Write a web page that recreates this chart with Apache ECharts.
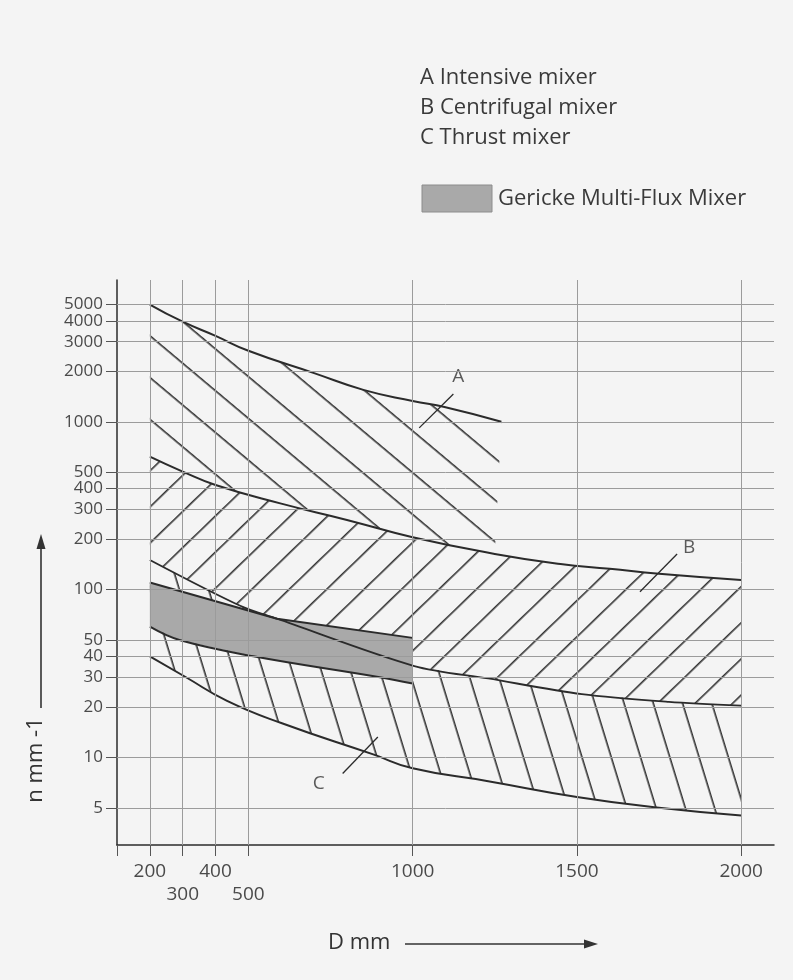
<!DOCTYPE html>
<html>
<head>
<meta charset="utf-8">
<script src="https://cdn.jsdelivr.net/npm/echarts@6/dist/echarts.min.js"></script>
<style>
  html, body { margin: 0; padding: 0; background: #f4f4f4; }
  #main { width: 793px; height: 980px; }
</style>
</head>
<body>
<div id="main"></div>
<script>
// tick values
var xTicks = [200, 300, 400, 500, 1000, 1500, 2000];
var yTicks = [5, 10, 20, 30, 40, 50, 100, 200, 300, 400, 500, 1000, 2000, 3000, 4000, 5000];

// boundary curves, [D mm, n]
var curveA = [[200, 5000], [300, 3950], [400, 3250], [500, 2650], [700, 1950], [850, 1550], [1000, 1330], [1100, 1220], [1270, 1000]];
var curveBTop = [[200, 620], [300, 505], [400, 420], [600, 325], [800, 260], [1000, 205], [1250, 163], [1450, 142], [1600, 133], [1750, 124], [2000, 114]];
var curveBLow = [[200, 150], [475, 80], [587, 67], [1005, 35], [1230, 29.5], [1515, 23.8], [1780, 21.4], [2000, 20.3]];
var curveCLow = [[200, 40], [310, 30], [435, 21.7], [600, 16], [880, 10.4], [1000, 8.6], [1230, 7.2], [1500, 5.8], [1750, 5.0], [2000, 4.5]];
var bandTop = [[200, 110], [587, 67], [1000, 51.5]];
var bandLow = [[200, 60], [290, 50], [515, 40], [900, 30], [1000, 27.5]];

// annotation letters and leader lines
var letters = [[1139, 1860, 'A'], [1842, 178, 'B'], [714, 7, 'C']];
var leaders = [
    [[1020, 920], [1124, 1465]],
    [[1692, 97], [1805, 163]],
    [[787, 8.0], [894, 13.2]]
];

var FONT = 'Open Sans';
var INK = '#2b2b2b';

// hatch pattern: horizontal stripes, rotated
function hatch(spacing, deg) {
    var c = document.createElement('canvas');
    c.width = 8;
    c.height = spacing;
    var ctx = c.getContext('2d');
    ctx.fillStyle = '#333';
    ctx.fillRect(0, 0, 8, 1.6);
    return { image: c, repeat: 'repeat', rotation: deg * Math.PI / 180 };
}

var regionA = curveA.concat(curveBTop.filter(function (p) { return p[0] <= 1270; }).reverse());
var regionB = curveBTop.concat(curveBLow.slice().reverse());
var regionC = curveBLow.concat(curveCLow.slice().reverse());
var regionBand = bandTop.concat(bandLow.slice().reverse());

var hatchRegions = [
    { poly: regionA, fill: hatch(32, 40) },
    { poly: regionB, fill: hatch(26, -44) },
    { poly: regionC, fill: hatch(28, 73) }
];

function lineSeries(data, smooth, width) {
    return {
        type: 'line',
        data: data,
        showSymbol: false,
        smooth: smooth,
        z: 3,
        silent: true,
        lineStyle: { color: INK, width: width }
    };
}

// the 4000 label sits on its own overlay axis so the max-label overlap check keeps both
var yLabelsMain = yTicks.filter(function (v) { return v !== 4000; });
var yLabelsExtra = [4000];

function yAxisOf(labels, showLine) {
    return {
        type: 'log',
        logBase: 10,
        min: 3,
        max: 7000,
        position: 'left',
        axisLine: { show: showLine, lineStyle: { color: INK, width: 1.5 } },
        axisTick: { show: true, customValues: labels, length: 11, lineStyle: { color: '#555' } },
        axisLabel: {
            customValues: labels,
            hideOverlap: false,
            showMinLabel: true, showMaxLabel: true,
            fontFamily: FONT, fontSize: 17, lineHeight: 14, color: '#4a4a4a', margin: 14,
            formatter: function (v) { return String(v); }
        },
        minorTick: { show: false },
        splitLine: { show: false }
    };
}

var chart = echarts.init(document.getElementById('main'));

var option = {
    animation: false,
    backgroundColor: '#f4f4f4',
    grid: { left: 117, right: 19, top: 280, bottom: 135 },
    xAxis: {
        type: 'value',
        min: 100,
        max: 2100,
        axisLine: { show: true, lineStyle: { color: INK, width: 1.5 } },
        axisTick: { show: true, customValues: [100].concat(xTicks), length: 11, lineStyle: { color: '#555' } },
        axisLabel: {
            customValues: xTicks,
            showMinLabel: true, showMaxLabel: true,
            fontFamily: FONT, fontSize: 19, color: '#4a4a4a', margin: 15, lineHeight: 23,
            formatter: function (v) { return (v === 300 || v === 500) ? '\n' + v : '' + v; }
        },
        splitLine: { show: false }
    },
    yAxis: [yAxisOf(yLabelsMain, true), yAxisOf(yLabelsExtra, false)],
    graphic: [
        { type: 'text', x: 420, y: 78, style: { text: 'A Intensive mixer', font: '22px "Open Sans"', fill: '#3a3a3a', verticalAlign: 'middle' } },
        { type: 'text', x: 420, y: 108, style: { text: 'B Centrifugal mixer', font: '22px "Open Sans"', fill: '#3a3a3a', verticalAlign: 'middle' } },
        { type: 'text', x: 420, y: 138, style: { text: 'C Thrust mixer', font: '22px "Open Sans"', fill: '#3a3a3a', verticalAlign: 'middle' } },
        { type: 'rect', shape: { x: 422, y: 185, width: 70, height: 27 }, style: { fill: '#a9a9a9', stroke: '#8c8c8c', lineWidth: 1 } },
        { type: 'text', x: 498, y: 199, style: { text: 'Gericke Multi-Flux Mixer', font: '22px "Open Sans"', fill: '#3a3a3a', verticalAlign: 'middle' } },
        // y-axis name and arrow
        { type: 'text', x: 36, y: 760, rotation: Math.PI / 2, style: { text: 'n mm -1', font: '22px "Open Sans"', fill: '#333', align: 'center', verticalAlign: 'middle' } },
        { type: 'line', shape: { x1: 41, y1: 708, x2: 41, y2: 546 }, style: { stroke: '#333', lineWidth: 1.6 } },
        { type: 'polygon', shape: { points: [[41, 534], [36.5, 549], [45.5, 549]] }, style: { fill: '#333' } },
        // x-axis name and arrow
        { type: 'text', x: 328, y: 943, style: { text: 'D mm', font: '22px "Open Sans"', fill: '#333', verticalAlign: 'middle' } },
        { type: 'line', shape: { x1: 405, y1: 944, x2: 586, y2: 944 }, style: { stroke: '#333', lineWidth: 1.6 } },
        { type: 'polygon', shape: { points: [[598, 944], [584, 939.5], [584, 948.5]] }, style: { fill: '#333' } }
    ],
    series: [
        {
            // grid lines
            type: 'line',
            data: [],
            z: 0,
            silent: true,
            markLine: {
                silent: true,
                symbol: ['none', 'none'],
                label: { show: false },
                lineStyle: { color: '#9b9b9b', width: 1, type: 'solid' },
                data: yTicks.map(function (v) { return { yAxis: v }; })
                    .concat(xTicks.map(function (v) { return { xAxis: v }; }))
            }
        },
        {
            // hatched regions
            type: 'custom',
            z: 1,
            silent: true,
            data: hatchRegions.map(function (r, i) { return [1000, 100, i]; }),
            renderItem: function (params, api) {
                var r = hatchRegions[params.dataIndex];
                return {
                    type: 'polygon',
                    shape: { points: r.poly.map(function (p) { return api.coord(p); }) },
                    style: { fill: r.fill, stroke: null }
                };
            }
        },
        {
            // Gericke band
            type: 'custom',
            z: 2,
            silent: true,
            data: [[1000, 100]],
            renderItem: function (params, api) {
                return {
                    type: 'polygon',
                    shape: { points: regionBand.map(function (p) { return api.coord(p); }) },
                    style: { fill: '#a9a9a9', stroke: null }
                };
            }
        },
        lineSeries(curveA, 0.5, 2),
        lineSeries(curveBTop, 0.5, 2),
        lineSeries(curveBLow, 0.3, 1.8),
        lineSeries(curveCLow, 0.5, 2),
        lineSeries(bandTop, false, 2),
        lineSeries(bandLow, 0.4, 2),
        {
            // letters with leader lines
            type: 'scatter',
            z: 4,
            silent: true,
            symbolSize: 0,
            data: letters.map(function (d) { return { value: [d[0], d[1]], name: d[2] }; }),
            label: {
                show: true, position: 'inside', formatter: '{b}',
                fontFamily: FONT, fontSize: 19, color: '#333'
            },
            markLine: {
                silent: true,
                symbol: ['none', 'none'],
                label: { show: false },
                lineStyle: { color: INK, width: 1.3, type: 'solid' },
                data: leaders.map(function (seg) {
                    return [{ coord: seg[0] }, { coord: seg[1] }];
                })
            }
        }
    ]
};

chart.setOption(option);
</script>
</body>
</html>
